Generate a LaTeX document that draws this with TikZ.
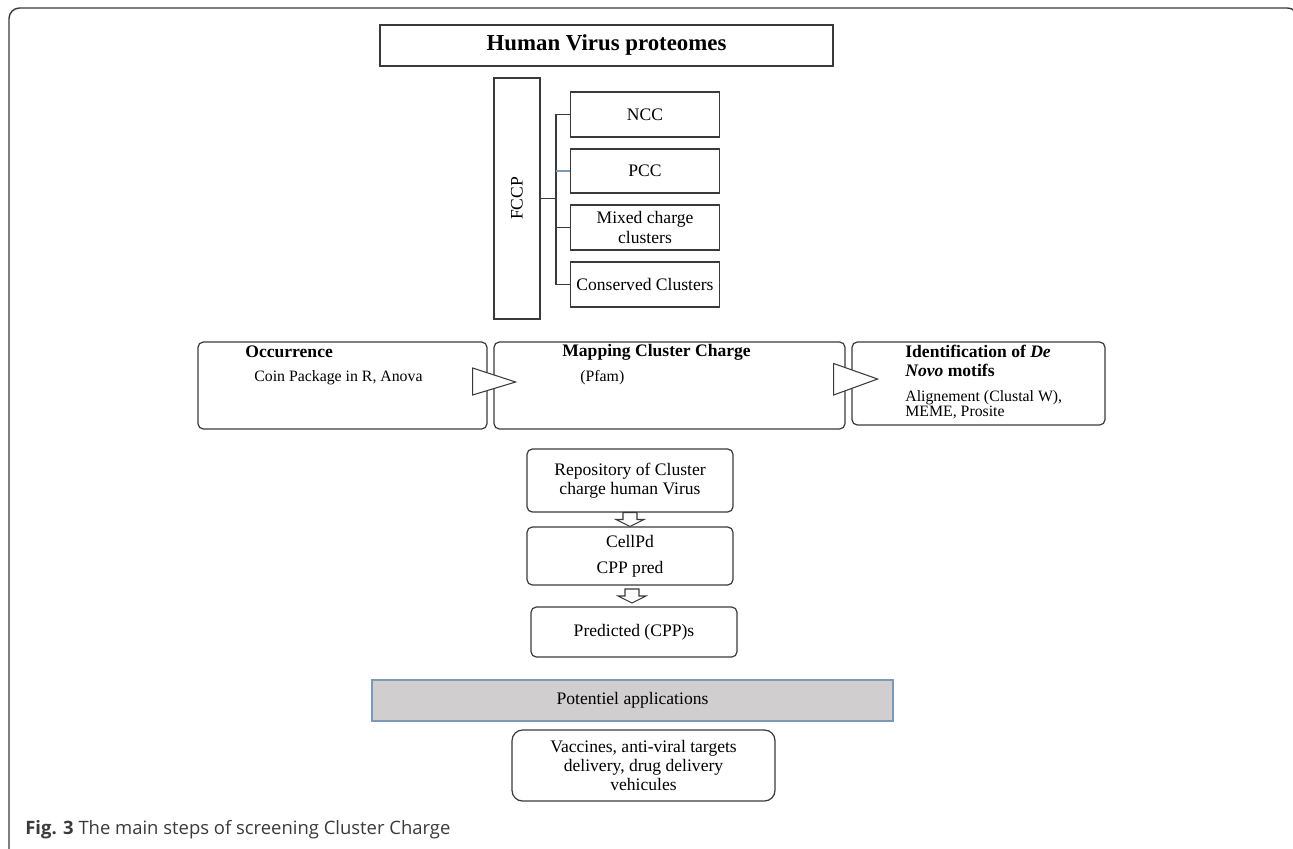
\documentclass[tikz,border=0pt]{standalone}
\usepackage{fontspec}
\setmainfont{Liberation Serif}
\newfontfamily\capfont{Open Sans}
\usetikzlibrary{calc}
\definecolor{edge}{HTML}{3A3A3A}
\definecolor{appfill}{HTML}{D0CECE}
\definecolor{appedge}{HTML}{7F98B8}
\tikzset{
  box/.style={draw=edge, line width=0.7pt, inner sep=0pt, align=center, font=\fontsize{10}{11}\selectfont},
  rbox/.style={box, rounded corners=3pt},
  stub/.style={draw=edge, line width=0.7pt},
  hollow/.style={draw=edge, fill=white, line width=0.6pt},
  lbl/.style={anchor=west, inner sep=0pt, align=left, font=\fontsize{9}{8.7}\selectfont},
  ttl/.style={lbl, font=\bfseries\fontsize{10}{10.5}\selectfont},
}

\begin{document}
\begin{tikzpicture}[x=0.02cm,y=-0.02cm]
\useasboundingbox (0,0) rectangle (1293,848);
% outer frame
\begin{scope}
\clip (0,0) rectangle (1293,848);
\draw[edge, line width=0.8pt, rounded corners=6pt] (9,880) -- (9,8) -- (1298,8) -- (1298,880);
\end{scope}

\node[box, line width=0.9pt, minimum width=9.06cm, minimum height=0.82cm, font=\bfseries\fontsize{13}{15}\selectfont] (hvp) at (606.5,45.5) {Human Virus proteomes};

% FCCP and its branches
\node[box, minimum width=0.92cm, minimum height=4.82cm] (fccp) at (517,198.5) {};
\node[rotate=90, inner sep=0pt, font=\fontsize{10}{11}\selectfont] (fccptxt) at (fccp) {FCCP};
\node[box, minimum width=2.98cm, minimum height=0.9cm] (ncc) at (645,114.5) {NCC};
\node[box, minimum width=2.98cm, minimum height=0.88cm] (pcc) at (645,171) {PCC};
\node[box, minimum width=2.98cm, minimum height=0.9cm] (mixed) at (645,227.5) {Mixed charge\\clusters};
\node[box, minimum width=2.98cm, minimum height=0.9cm] (cons) at (645,284.5) {Conserved Clusters};
\coordinate (trunk) at (556,198.5);
\draw[stub] (fccp.east) -- (trunk);
\foreach \b in {ncc,mixed,cons}
  \draw[stub] (\b.west) -| (trunk);
\draw[stub, draw=appedge] (pcc.west) -- (pcc.west -| trunk);

% analysis row
\node[rbox, minimum width=5.78cm, minimum height=1.74cm] (occ) at (342.5,385.5) {};
\node[rbox, minimum width=7.02cm, minimum height=1.74cm] (map) at (669.5,385.5) {};
\node[rbox, minimum width=5.06cm, minimum height=1.66cm] (ident) at (978.5,383.5) {};
\node[ttl] (occt) at (245,352) {Occurrence};
\node[lbl] (occs) at (254,378) {Coin Package in R, Anova};
\node[ttl] (mapt) at (562,352) {Mapping Cluster Charge};
\node[lbl] (maps) at (580,378) {(Pfam)};
\node[ttl] (idt) at (905,361) {Identification of \textit{De}\\\textit{Novo} motifs};
\node[lbl] (ids) at (905,404.5) {Alignement (Clustal W),\\MEME, Prosite};
\draw[hollow] ($(occ.east)+(-15,-17.5)$) -- ($(occ.east)+(28,-3.5)$) -- ($(occ.east)+(-15,9.5)$) -- cycle;
\draw[hollow] ($(map.east)+(-12,-22)$) -- ($(map.east)+(32,-6.5)$) -- ($(map.east)+(-12,9.5)$) -- cycle;

% prediction column
\node[rbox, minimum width=4.12cm, minimum height=1.26cm] (repo) at (630,480.5) {Repository of Cluster\\charge human Virus};
\node[rbox, minimum width=4.12cm, minimum height=1.16cm, font=\fontsize{10}{15}\selectfont] (cell) at (630,556) {CellPd\\CPP pred};
\node[rbox, minimum width=4.12cm, minimum height=1.0cm] (pred) at (634,632) {Predicted (CPP)s};
\foreach \a/\b in {repo/cell,cell/pred}
  \draw[hollow] ($(\a.south)!.5!(\b.north)$) ++(-7,-7) -- ++(14,0) -- ++(0,7) -- ++(7,0)
    -- ++(-14,7) -- ++(-14,-7) -- ++(7,0) -- cycle;

% applications
\node[box, draw=appedge, fill=appfill, minimum width=10.42cm, minimum height=0.82cm] (app) at (632.5,700.5) {Potentiel applications};
\node[box, rounded corners=6pt, minimum width=5.26cm, minimum height=1.42cm] (vacc) at (643.5,765.5) {Vaccines, anti-viral targets\\delivery, drug delivery\\vehicules};

\node[anchor=west, inner sep=0pt, text=edge, font=\capfont\fontsize{10.5}{12}\selectfont] (cap) at (25,830) {\textbf{Fig. 3} The main steps of screening Cluster Charge};
\end{tikzpicture}
\end{document}
